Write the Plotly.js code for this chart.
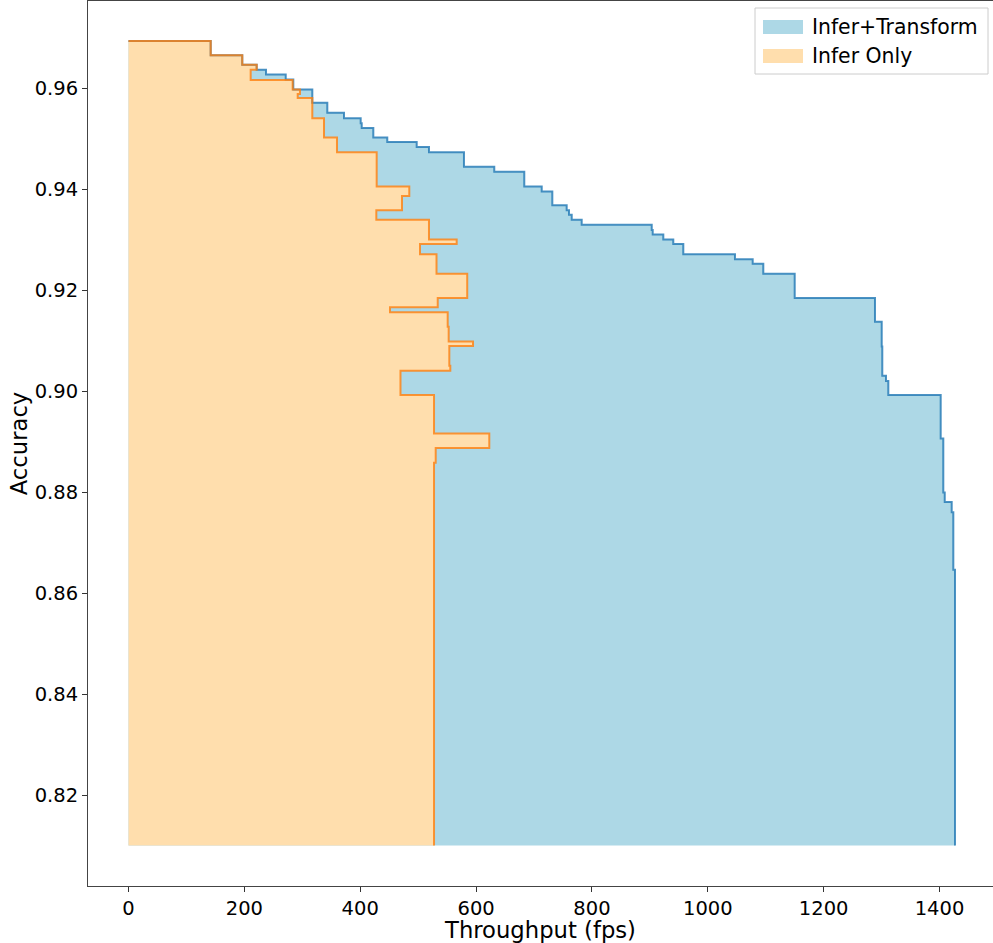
<!DOCTYPE html>
<html>
<head>
<meta charset="utf-8">
<script src="https://cdn.plot.ly/plotly-3.0.1.min.js"></script>
<style>html,body{margin:0;padding:0;background:#fff;}#chart{width:993px;height:943px;}</style>
</head>
<body>
<div id="chart"></div>
<script>
// ---- data (step corners: throughput at the right end of each accuracy level) ----
const seriesNames = ["Infer+Transform", "Infer Only"];

const transformThroughput = [0, 141.9, 196.4, 221.3, 237.4, 271.4, 284.5, 317.3, 343.2, 372.0,
  400.8, 402.6, 422.6, 446.7, 497.5, 518.7, 579.1, 631.4, 683.2, 713.3,
  731.6, 756.4, 760.4, 765.1, 782.3, 903.2, 904.9, 923.2, 940.4, 957.7,
  1046.9, 1077.5, 1095.8, 1150, 1288.6, 1300.2, 1301.2, 1307.6, 1311.6, 1402.0,
  1406.5, 1409.0, 1421.0, 1423.8, 1426.7, 1426.7];
const transformAccuracy = [0.9693, 0.9693, 0.9665, 0.9646, 0.9636, 0.9627, 0.9617, 0.9597, 0.9571, 0.9551,
  0.9540, 0.9530, 0.9521, 0.9502, 0.9493, 0.9483, 0.9473, 0.9444, 0.9434, 0.9405,
  0.9395, 0.9368, 0.9358, 0.9349, 0.9339, 0.9329, 0.9319, 0.9310, 0.9300, 0.9291,
  0.9271, 0.9261, 0.9252, 0.9232, 0.9184, 0.9137, 0.9088, 0.9030, 0.9020, 0.8992,
  0.8906, 0.8799, 0.8780, 0.8760, 0.8646, 0.81];

const inferThroughput = [0, 141.9, 196.4, 221.3, 210.9, 283.4, 296.0, 292.1, 317.3, 337.5,
  359.9, 428.4, 484.7, 472.1, 427.8, 518.7, 566.5, 503.2, 531.7, 584.7,
  533.8, 451.4, 551.0, 552.7, 594.7, 553.8, 555.5, 469.5, 527.4, 622.8,
  530.3, 527.4, 527.4];
const inferAccuracy = [0.9693, 0.9693, 0.9665, 0.9646, 0.9636, 0.9616, 0.9597, 0.9588, 0.9580, 0.9540,
  0.9502, 0.9473, 0.9405, 0.9386, 0.9358, 0.9339, 0.9300, 0.9291, 0.9271, 0.9232,
  0.9184, 0.9166, 0.9156, 0.9127, 0.9098, 0.9089, 0.9050, 0.9040, 0.8992, 0.8916,
  0.8887, 0.8858, 0.81];

const xTickValues = [0, 200, 400, 600, 800, 1000, 1200, 1400];
const yTickValues = [0.82, 0.84, 0.86, 0.88, 0.90, 0.92, 0.94, 0.96];

// ---- styling ----
const FONT = "DejaVu Sans, sans-serif";
const blueFill = "#add8e6", orangeFill = "#ffdead";
const blueLine = "rgba(31,119,180,0.8)", orangeLine = "rgba(255,127,14,0.8)";

function fillTrace(x, y, color, name) {
  return {type: "scatter", mode: "lines", x: x, y: y, name: name, showlegend: false,
    line: {shape: "vh", width: 0, color: color}, fill: "tozerox", fillcolor: color, hoverinfo: "skip"};
}
function lineTrace(x, y, color, name) {
  return {type: "scatter", mode: "lines", x: x, y: y, name: name, showlegend: false,
    line: {shape: "vh", width: 2, color: color}};
}

const traces = [
  fillTrace(transformThroughput, transformAccuracy, blueFill, seriesNames[0]),
  fillTrace(inferThroughput, inferAccuracy, orangeFill, seriesNames[1]),
  lineTrace(transformThroughput, transformAccuracy, blueLine, seriesNames[0]),
  lineTrace(inferThroughput, inferAccuracy, orangeLine, seriesNames[1])
];

// manual legend (matplotlib-style patches), in paper coordinates
const W = 993, H = 943, ML = 88, MR = 0, MT = 1, MB = 57;
const PW = W - ML - MR, PH = H - MT - MB;
const px = v => (v - ML) / PW;
const py = v => (H - MB - v) / PH;

const shapes = [
  {type: "rect", xref: "paper", yref: "paper", x0: px(755), x1: px(988), y0: py(74), y1: py(8),
   line: {color: "#cccccc", width: 1}, fillcolor: "rgba(255,255,255,0.8)"},
  {type: "rect", xref: "paper", yref: "paper", x0: px(763), x1: px(803), y0: py(34), y1: py(20),
   line: {width: 0}, fillcolor: blueFill},
  {type: "rect", xref: "paper", yref: "paper", x0: px(763), x1: px(803), y0: py(63), y1: py(49),
   line: {width: 0}, fillcolor: orangeFill}
];
const annotations = [
  {xref: "paper", yref: "paper", x: px(810), y: py(27), text: seriesNames[0], showarrow: false,
   xanchor: "left", yanchor: "middle", font: {family: FONT, size: 20.4, color: "#000"}},
  {xref: "paper", yref: "paper", x: px(810), y: py(56), text: seriesNames[1], showarrow: false,
   xanchor: "left", yanchor: "middle", font: {family: FONT, size: 20.4, color: "#000"}}
];

const layout = {
  width: W, height: H,
  margin: {l: ML, r: MR, t: MT, b: MB, pad: 0},
  paper_bgcolor: "#fff", plot_bgcolor: "#fff",
  showlegend: false,
  font: {family: FONT, color: "#000"},
  xaxis: {
    range: [-69.9, 1492.3], tickvals: xTickValues, ticks: "outside", ticklen: 5, tickwidth: 1,
    tickcolor: "#333", showline: true, linecolor: "#444", linewidth: 1, mirror: true,
    showgrid: false, zeroline: false, tickfont: {family: FONT, size: 19.5, color: "#000"},
    title: {text: "Throughput (fps)", font: {family: FONT, size: 22.7, color: "#000"}, standoff: 0}
  },
  yaxis: {
    range: [0.80198, 0.97723], tickvals: yTickValues, tickformat: ".2f", ticks: "outside",
    ticklen: 5, tickwidth: 1, tickcolor: "#333", showline: true, linecolor: "#444", linewidth: 1,
    showgrid: false, zeroline: false, tickfont: {family: FONT, size: 19.5, color: "#000"},
    title: {text: "Accuracy", font: {family: FONT, size: 22.7, color: "#000"}, standoff: 0}
  },
  shapes: shapes,
  annotations: annotations
};

Plotly.newPlot("chart", traces, layout, {displayModeBar: false, staticPlot: true});
</script>
</body>
</html>
